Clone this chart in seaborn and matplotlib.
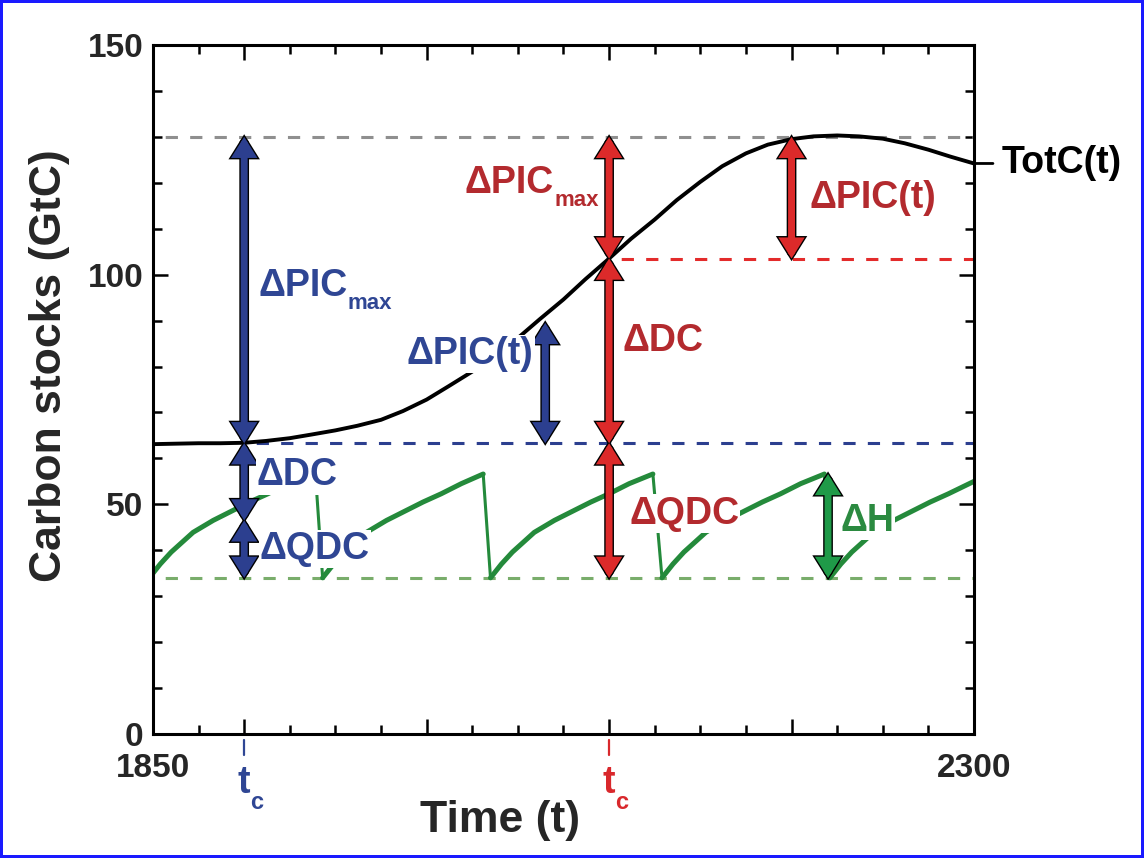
import numpy as np
import pandas as pd
import matplotlib.pyplot as plt
import matplotlib.patheffects as pe
from matplotlib.patches import FancyArrowPatch
import seaborn as sns

# Total carbon stock TotC(t)
totc_years = [1850, 1862, 1875, 1887, 1900, 1912, 1925, 1937, 1950, 1962, 1975, 1987,
              2000, 2012, 2025, 2037, 2050, 2062, 2075, 2087, 2100, 2112, 2125, 2137,
              2150, 2162, 2175, 2187, 2200, 2212, 2225, 2237, 2250, 2262, 2275, 2287, 2300]
totc_vals = [63.1, 63.2, 63.3, 63.3, 63.4, 63.8, 64.4, 65.2, 66.1, 67.1, 68.4, 70.3,
             72.8, 75.7, 78.9, 82.4, 86.2, 90.3, 94.6, 99.0, 103.5, 107.8, 112.0, 116.2,
             120.2, 123.6, 126.4, 128.3, 129.5, 130.1, 130.3, 130.1, 129.6, 128.6, 127.2, 125.7, 124.2]

# harvest cycles (sawtooth), one list per rotation
saw_years = [[1850, 1854, 1860, 1872, 1883, 1893, 1903, 1913, 1924, 1939],
             [1943, 1949, 1955, 1967, 1978, 1988, 1998, 2008, 2019, 2031],
             [2035, 2041, 2047, 2059, 2070, 2080, 2090, 2100, 2111, 2124],
             [2129, 2135, 2141, 2153, 2164, 2174, 2184, 2194, 2205, 2218],
             [2221, 2227, 2233, 2245, 2256, 2266, 2276, 2286, 2300]]
saw_vals = [[35.0, 37.0, 39.6, 43.9, 46.5, 48.5, 50.5, 52.3, 54.5, 56.9],
            [34.0, 37.0, 39.6, 43.9, 46.5, 48.5, 50.5, 52.3, 54.5, 56.6],
            [34.0, 37.0, 39.6, 43.9, 46.5, 48.5, 50.5, 52.3, 54.5, 56.6],
            [34.0, 37.0, 39.6, 43.9, 46.5, 48.5, 50.5, 52.3, 54.5, 56.6],
            [34.0, 37.0, 39.6, 43.9, 46.5, 48.5, 50.5, 52.3, 55.0]]

# reference levels and arrow positions
tc_blue, tc_red = 1900, 2100
level_max = 130.0
level_red = 103.5
level_blue = 63.3
level_min = 34.0
blue_split = 46.5
pict_blue_year, pict_blue_top = 2065, 89.5
pict_red_year = 2200
h_year, h_top = 2220, 56.6

blue = '#2c3f8f'
blue_txt = '#2f4694'
red = '#dc2a2a'
red_txt = '#b32a2e'
green = '#248a3b'
green_arrow = '#1f9a48'
green_txt = '#2b8a40'

sns.set_style('ticks')
plt.rcParams['font.family'] = ['Liberation Sans', 'DejaVu Sans']
plt.rcParams['font.weight'] = 'bold'

fig = plt.figure(figsize=(11.44, 8.58), dpi=100)
fig.patch.set_edgecolor('#1a1aff')
fig.patch.set_linewidth(4)
ax = fig.add_axes([0.1337, 0.1445, 0.7177, 0.8031])

# dashed reference lines
dash = (4, (4, 4))
ax.plot([1850, 2300], [level_max, level_max], ls=dash, lw=2.2, color='#8f8f8f', zorder=2)
ax.plot([tc_red, 2300], [level_red, level_red], ls=dash, lw=2.2, color='#e32b2b', zorder=2)
ax.plot([tc_blue, 2300], [level_blue, level_blue], ls=dash, lw=2.2, color=blue, zorder=2)
ax.plot([1850, 2300], [level_min, level_min], ls=dash, lw=2.2, color='#79ad6b', zorder=2)

# sawtooth
saw = pd.DataFrame({
    'year': sum(saw_years, []),
    'stock': sum(saw_vals, []),
    'cycle': [i for i, ys in enumerate(saw_years) for _ in ys],
})
sns.lineplot(data=saw, x='year', y='stock', units='cycle', estimator=None,
             color=green, lw=3.6, ax=ax, zorder=2.5)
for k in range(len(saw_years) - 1):
    ax.plot([saw_years[k][-1], saw_years[k + 1][0]],
            [saw_vals[k][-1], saw_vals[k + 1][0]], color=green, lw=2.2, zorder=2.5)

# TotC curve
sns.lineplot(x=totc_years, y=totc_vals, color='black', lw=2.8, ax=ax, zorder=3)

# fat double arrows with black outline
style = '<|-|>,head_length=0.8,head_width=0.5'


def double_arrow(x, y0, y1, color):
    ax.add_patch(FancyArrowPatch((x, y0), (x, y1), arrowstyle=style, mutation_scale=10,
                                 lw=5, color='black', shrinkA=0, shrinkB=0,
                                 joinstyle='miter', zorder=4,
                                 path_effects=[pe.Stroke(linewidth=7, foreground='black')]))
    ax.add_patch(FancyArrowPatch((x, y0), (x, y1), arrowstyle=style, mutation_scale=10,
                                 lw=5, color=color, shrinkA=0, shrinkB=0,
                                 joinstyle='miter', zorder=5))


double_arrow(tc_blue, level_blue, level_max, blue)
double_arrow(tc_blue, blue_split, level_blue, blue)
double_arrow(tc_blue, level_min, blue_split, blue)
double_arrow(pict_blue_year, level_blue, pict_blue_top, blue)
double_arrow(tc_red, level_red, level_max, red)
double_arrow(tc_red, level_blue, level_red, red)
double_arrow(tc_red, level_min, level_blue, red)
double_arrow(pict_red_year, level_red, level_max, red)
double_arrow(h_year, level_min, h_top, green_arrow)


def label(x, y, text, color, sub=None):
    t = ax.text(x, y, text, color=color, fontsize=27, fontweight='bold', ha='left',
                va='center', zorder=6, bbox=dict(fc='white', ec='none', pad=0.8))
    if sub:
        ax.annotate(sub, xy=(1, 0), xycoords=t, xytext=(0.5, -3.6), textcoords='offset points',
                    ha='left', va='baseline', fontsize=16, fontweight='bold', color=color,
                    zorder=6, bbox=dict(fc='white', ec='none', pad=0.5))


label(1907.6, 97.5, 'ΔPIC', blue_txt, 'max')
label(1989.2, 82.8, 'ΔPIC(t)', blue_txt)
label(1907.0, 56.3, 'ΔDC', blue_txt)
label(1908.5, 40.3, 'ΔQDC', blue_txt)
label(2021.0, 120.0, 'ΔPIC', red_txt, 'max')
label(2107.6, 85.5, 'ΔDC', red_txt)
label(2111.0, 48.0, 'ΔQDC', red_txt)
label(2209.6, 116.7, 'ΔPIC(t)', red_txt)
label(2226.6, 46.3, 'ΔH', green_txt)

ax.annotate('TotC(t)', xy=(totc_years[-1], totc_vals[-1]), xytext=(20, 0),
            textcoords='offset points', ha='left', va='center', fontsize=27,
            fontweight='bold', color='black', annotation_clip=False,
            arrowprops=dict(arrowstyle='-', lw=2, color='black', shrinkA=4, shrinkB=0))

# t_c markers under the axis
xt = ax.get_xaxis_transform()
for x, c in [(tc_blue, blue_txt), (tc_red, '#d9282c')]:
    ax.plot([x, x], [-0.009, -0.030], transform=xt, clip_on=False, color=c, lw=1.6)
    t = ax.text(x, -0.045, 't', transform=xt, ha='center', va='top', fontsize=27,
                fontweight='bold', color=c)
    ax.annotate('c', xy=(1, 0), xycoords=t, xytext=(0, -5.8), textcoords='offset points',
                ha='left', va='baseline', fontsize=17, fontweight='bold', color=c)

# axes
ax.set_xlim(1850, 2300)
ax.set_ylim(0, 150)
ax.set_xticks([1850, 1900, 2000, 2100, 2200, 2300])
ax.set_xticklabels(['1850', '', '', '', '', '2300'])
ax.set_xticks(np.arange(1850, 2301, 25), minor=True)
ax.set_yticks([0, 50, 100, 150])
ax.set_yticks(np.arange(0, 151, 10), minor=True)
ax.tick_params(which='both', direction='in', top=True, right=True, width=1.8, color='black')
ax.tick_params(which='major', length=11)
ax.tick_params(which='minor', length=6.5)
ax.tick_params(axis='x', pad=13.5, labelsize=24)
ax.tick_params(axis='y', pad=7, labelsize=24)
for lab in ax.get_xticklabels() + ax.get_yticklabels():
    lab.set_fontweight('bold')
for s in ax.spines.values():
    s.set_linewidth(2.2)
    s.set_color('black')

ax.set_xlabel('Time (t)', fontsize=32, fontweight='bold')
ax.set_ylabel('Carbon stocks (GtC)', fontsize=32, fontweight='bold')
ax.xaxis.set_label_coords(0.4227, -0.096)
ax.yaxis.set_label_coords(-0.101, 0.534)

fig.savefig('out.png', dpi=100)
